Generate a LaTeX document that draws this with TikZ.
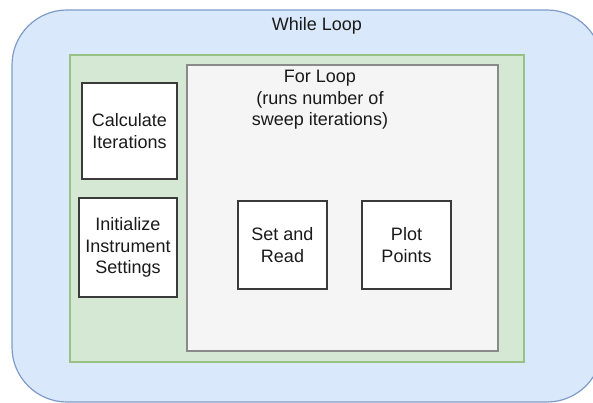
\documentclass[tikz,border=0pt]{standalone}
\usepackage{fontspec}
\setmainfont{Liberation Sans}
\definecolor{whilefill}{HTML}{DAE8FC}
\definecolor{whiledraw}{HTML}{7E9CC9}
\definecolor{groupfill}{HTML}{D5E8D4}
\definecolor{groupdraw}{HTML}{97C286}
\definecolor{forfill}{HTML}{F5F5F5}
\definecolor{fordraw}{HTML}{8A8A8A}
\definecolor{stepdraw}{HTML}{3A3A3A}
\definecolor{labeltext}{HTML}{1A1A1A}
\begin{document}
\begin{tikzpicture}[x=1pt,y=-1pt,
  every node/.style={inner sep=0pt, outer sep=0pt},
  frame/.style={rectangle, anchor=north west},
  whilebox/.style={frame, fill=whilefill, draw=whiledraw, line width=1.2pt, rounded corners=55pt},
  groupbox/.style={frame, fill=groupfill, draw=groupdraw, line width=1.4pt},
  forbox/.style={frame, fill=forfill, draw=fordraw, line width=1.4pt},
  stepbox/.style={frame, fill=white, draw=stepdraw, line width=1.4pt},
  txt/.style={text=labeltext, font=\fontsize{18}{21.3}\selectfont, align=center}
]
\useasboundingbox (0,0) rectangle (593,403);
\clip (0,0) rectangle (593,403);

% outer while loop container
\node[whilebox, minimum width=590pt, minimum height=392pt] (whileloop) at (12,10) {};
\node[txt, anchor=base] (whiletitle) at (317,31) {While Loop};

% green group holding the setup steps and the for loop
\node[groupbox, minimum width=454pt, minimum height=307pt] (group) at (70,55) {};

% for loop container; the title is placed by the baseline of its last line
\node[forbox, minimum width=311pt, minimum height=286pt] (forloop) at (187,65) {};
\node[txt, anchor=base] (fortitle) at (320,125.5) {For Loop\\(runs number of\\sweep iterations)};

% setup steps
\node[stepbox, minimum width=95pt, minimum height=96pt] (calc) at (82,83) {};
\node[txt] (calctext) at (calc.center) {Calculate\\Iterations};

\node[stepbox, minimum width=98pt, minimum height=99pt] (init) at (79,198) {};
\node[txt] (inittext) at (init.center) {Initialize\\Instrument\\Settings};

% steps inside the for loop
\node[stepbox, minimum width=89pt, minimum height=88pt] (setread) at (238,201) {};
\node[txt] (setreadtext) at (setread.center) {Set and\\Read};

\node[stepbox, minimum width=89pt, minimum height=88pt] (plot) at (362,201) {};
\node[txt] (plottext) at (plot.center) {Plot\\Points};
\end{tikzpicture}
\end{document}
